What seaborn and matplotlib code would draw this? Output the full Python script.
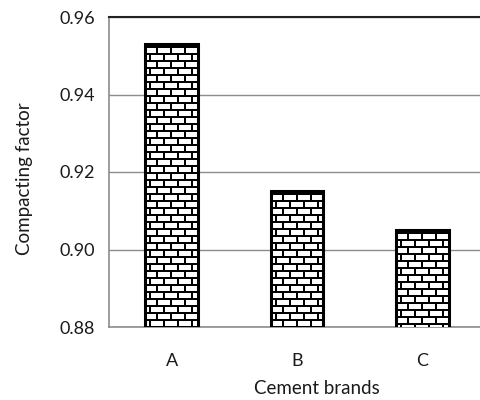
import numpy as np
import pandas as pd
import matplotlib
matplotlib.use("Agg")
import matplotlib.pyplot as plt
import seaborn as sns

brands = ["A", "B", "C"]
compacting = [0.953, 0.915, 0.905]
yticks = [0.88, 0.90, 0.92, 0.94, 0.96]

sns.set_style("white")
plt.rcParams["font.family"] = ["Lato", "DejaVu Sans"]

df = pd.DataFrame({"brand": brands, "cf": compacting})

fig = plt.figure(figsize=(4.8, 4.0), dpi=100)
ax = fig.add_axes([109/480, 1-327/400, (485-109)/480, 310/400])

sns.barplot(data=df, x="brand", y="cf", ax=ax, color="white", width=0.42,
            edgecolor="black", linewidth=2.2, zorder=3)

YMIN, YMAX = 0.88, 0.96
ax.set_ylim(YMIN, YMAX)
ax.set_xlim(-0.5, 2.5)
ax.set_yticks(yticks)
ax.set_yticklabels([f"{v:.2f}" for v in yticks], fontsize=13, color="#1a1a1a")
ax.yaxis.grid(True, color="#8c8c8c", linewidth=1.0, zorder=0)
ax.set_axisbelow(True)

ax.set_xticks(range(len(brands)))
ax.set_xticklabels(brands, fontsize=13, color="#1a1a1a")
ax.tick_params(axis="x", which="major", length=0, pad=19)
ax.set_xticks([0.5, 1.5], minor=True)
ax.tick_params(axis="x", which="minor", length=6, color="#8c8c8c", width=1)
ax.tick_params(axis="y", which="major", length=6, color="#8c8c8c", width=1, pad=4)

ax.set_xlabel("Cement brands", fontsize=13.5, color="#1a1a1a")
ax.set_ylabel("Compacting factor", fontsize=13.5, color="#1a1a1a")
ax.xaxis.set_label_coords((317 - 109) / 376, (327 - 389) / 310)
ax.xaxis.label.set_va("center")
ax.yaxis.set_label_coords((25 - 109) / 376, (327 - 179) / 310)
ax.yaxis.label.set_va("center")

for s in ["left", "bottom"]:
    ax.spines[s].set_color("#8c8c8c")
    ax.spines[s].set_linewidth(1.2)
ax.spines["top"].set_color("#222222")
ax.spines["top"].set_linewidth(1.5)
ax.spines["right"].set_visible(False)

# brick texture over the visible part of each bar
fig.canvas.draw()
for patch in ax.patches:
    x0, pw = patch.get_x(), patch.get_width()
    top = patch.get_y() + patch.get_height()
    p0 = ax.transData.transform((x0, YMIN))
    p1 = ax.transData.transform((x0 + pw, top))
    w = max(int(round(p1[0] - p0[0])), 1)
    h = max(int(round(p1[1] - p0[1])), 1)
    img = np.ones((h, w))
    for r in range(h):
        rr = (r - 2) % 7
        if rr < 2:
            img[r, :] = 0
        else:
            off = 0 if ((r - 2) // 7) % 2 == 0 else 7
            for c in range(w):
                if (c + off + 3) % 14 < 2:
                    img[r, c] = 0
    ax.imshow(img, cmap="gray", vmin=0, vmax=1, extent=[x0, x0 + pw, YMIN, top],
              origin="upper", interpolation="nearest", aspect="auto", zorder=3.5)
    patch.set_zorder(4)
    patch.set_facecolor("none")

ax.set_xlim(-0.5, 2.5)
ax.set_ylim(YMIN, YMAX)

fig.savefig("out.png", dpi=100)
